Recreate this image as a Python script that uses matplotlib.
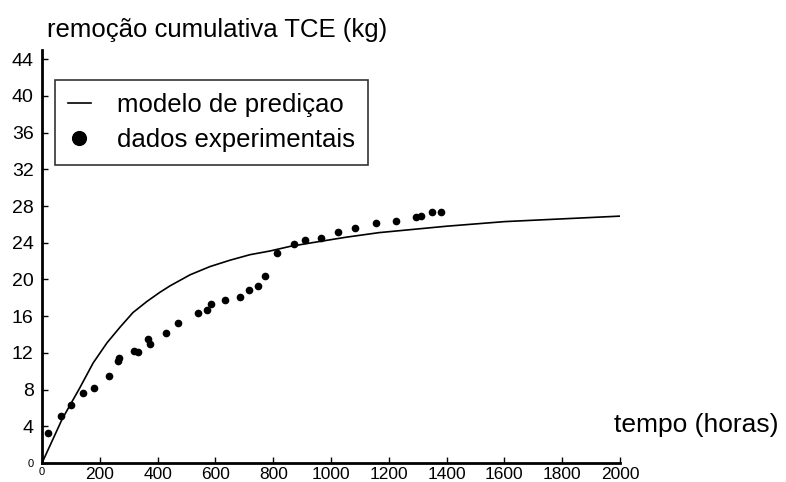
import matplotlib.pyplot as plt

plt.rcParams['font.family'] = ['Liberation Sans', 'DejaVu Sans']

# model curve
model_t = [0, 70, 131, 177, 225, 270, 315, 363, 408, 443, 512, 581, 651, 720, 789, 858, 934,
           1052, 1166, 1400, 1600, 1800, 2000]
model_v = [0, 4.8, 8.2, 10.9, 13.1, 14.8, 16.4, 17.6, 18.6, 19.3, 20.5, 21.4, 22.1, 22.7, 23.1, 23.6, 24.0,
           24.6, 25.1, 25.8, 26.3, 26.6, 26.9]

# experimental points
exp_t = [21, 66, 100, 141, 179, 231, 262, 266, 317, 331, 366, 372, 430, 469, 541, 572, 586,
         634, 686, 717, 748, 772, 814, 872, 910, 965, 1024, 1083, 1155, 1224, 1293, 1310, 1348, 1379]
exp_v = [3.3, 5.1, 6.3, 7.6, 8.2, 9.5, 11.1, 11.4, 12.2, 12.1, 13.5, 13.0, 14.2, 15.3, 16.3, 16.7, 17.3,
         17.8, 18.1, 18.8, 19.3, 20.4, 22.9, 23.9, 24.3, 24.5, 25.2, 25.6, 26.1, 26.4, 26.8, 26.9, 27.3, 27.3]

x_ticks = [0, 200, 400, 600, 800, 1000, 1200, 1400, 1600, 1800, 2000]
y_ticks = [0, 4, 8, 12, 16, 20, 24, 28, 32, 36, 40, 44]

fig = plt.figure(figsize=(7.86, 4.82), dpi=100)
ax = fig.add_axes([42 / 786, 19 / 482, 578 / 786, 413 / 482])

line, = ax.plot(model_t, model_v, color='black', linewidth=1.2)
pts, = ax.plot(exp_t, exp_v, 'o', color='black', markersize=4.5, linestyle='none')

ax.set_xlim(0, 2000)
ax.set_ylim(0, 45)
ax.set_xticks(x_ticks)
ax.set_yticks(y_ticks)
ax.tick_params(axis='y', direction='in', length=4, width=1, labelsize=14, pad=6)
ax.tick_params(axis='x', direction='in', length=4, width=1, labelsize=12.5, pad=3)
# the zero labels are tiny in the original
ax.get_yticklabels()[0].set_fontsize(8)
ax.get_xticklabels()[0].set_fontsize(8)
for s in ['top', 'right']:
    ax.spines[s].set_visible(False)
ax.spines['left'].set_linewidth(2)
ax.spines['bottom'].set_linewidth(2)

fig.text(47 / 786, 1 - 37 / 482, 'remoção cumulativa TCE (kg)', fontsize=18.5, ha='left', va='baseline')
fig.text(614 / 786, 1 - 425 / 482, 'tempo (horas)', fontsize=19, ha='left', va='center')

leg = ax.legend([line, pts], ['modelo de prediçao', 'dados experimentais'],
                loc='upper left', bbox_to_anchor=(55 / 786, 1 - 80 / 482), bbox_transform=fig.transFigure,
                borderaxespad=0, fontsize=18.5, frameon=True, fancybox=False, edgecolor='black',
                handlelength=0.9, markerscale=2.2, borderpad=0.5, labelspacing=0.45, handletextpad=1.0)
leg.get_frame().set_linewidth(1.2)

fig.savefig('out.png', dpi=100)
